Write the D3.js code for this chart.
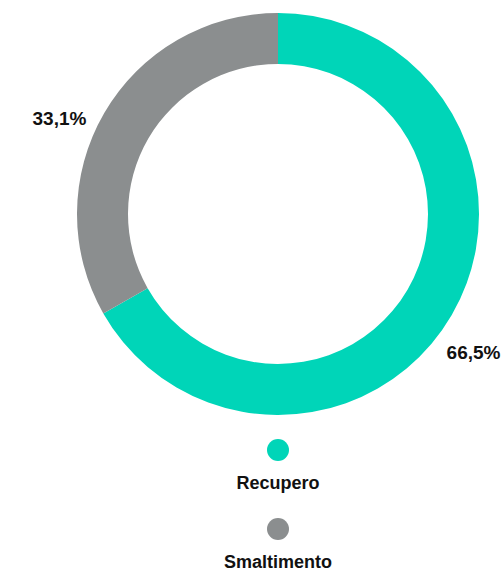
<!DOCTYPE html>
<html>
    <head>
        <meta charset="utf-8">
        <title>Recupero / Smaltimento</title>
        <style>
body {
    margin: 0;
    background-color: #fff;
    font-family: 'Liberation Sans', Arial, sans-serif;
}

.value-label {
    font-size: 19px;
    font-weight: bold;
    fill: #111;
    text-anchor: middle;
}

.legend-label {
    font-size: 18px;
    font-weight: bold;
    fill: #111;
    text-anchor: middle;
}
        </style>
        <script src="https://cdn.jsdelivr.net/npm/d3@7"></script>
    </head>
    <body>
        <script>
var categories = ["Recupero", "Smaltimento"];
var values = [66.5, 33.1];
var labels = ["66,5%", "33,1%"];
var colors = ["#00d5b8", "#8b8e8f"];

var width = 503,
    height = 571,
    cx = 278,
    cy = 214;

var outerRadius = 201,
    innerRadius = 150,
    labelRadius = 232;

var svg = d3.select('body')
    .append('svg')
    .attr('width', width)
    .attr('height', height);

var data = categories.map(function (c, i) {
    return { name: c, value: values[i], label: labels[i] };
});

var color = d3.scaleOrdinal()
    .domain(categories)
    .range(colors);

var pie = d3.pie()
    .sort(null)
    .value(function (d) { return d.value; });

var arc = d3.arc()
    .innerRadius(innerRadius)
    .outerRadius(outerRadius);

var labelArc = d3.arc()
    .innerRadius(labelRadius)
    .outerRadius(labelRadius);

var chart = svg.append("g")
    .attr("transform", "translate(" + cx + "," + cy + ")");

var slices = pie(data);

chart.selectAll("path")
    .data(slices)
    .enter()
    .append("path")
    .attr("d", arc)
    .attr("fill", function (d) { return color(d.data.name); });

// percent labels sit outside the ring
chart.selectAll("text")
    .data(slices)
    .enter()
    .append("text")
    .attr("class", "value-label")
    .attr("x", function (d) {
        var c = labelArc.centroid(d);
        return c[0] < 0 ? c[0] - 18 : c[0] - 5;
    })
    .attr("y", function (d) { return labelArc.centroid(d)[1] + 28; })
    .text(function (d) { return d.data.label; });

// legend, stacked under the ring
var legendY = d3.scalePoint()
    .domain(categories)
    .range([450, 529]);

var legend = svg.append("g")
    .selectAll("g")
    .data(categories)
    .enter()
    .append("g")
    .attr("transform", function (d) { return "translate(" + cx + "," + legendY(d) + ")"; });

legend.append("circle")
    .attr("r", 11)
    .attr("fill", function (d) { return color(d); });

legend.append("text")
    .attr("class", "legend-label")
    .attr("y", 39)
    .text(function (d) { return d; });
        </script>
    </body>
</html>
